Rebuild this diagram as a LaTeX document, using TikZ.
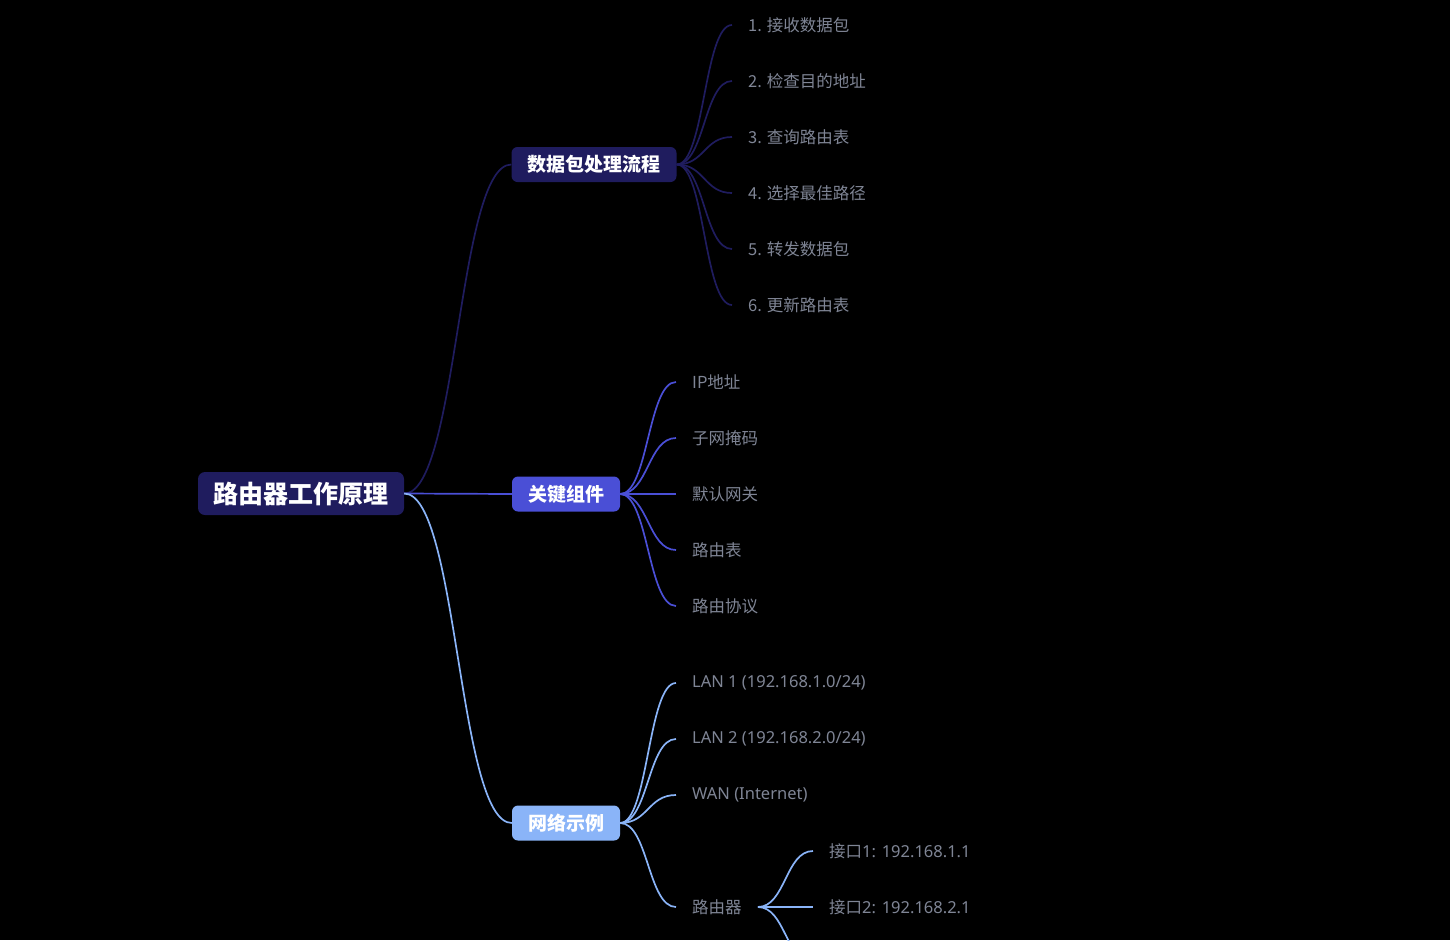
\documentclass[tikz,border=0pt]{standalone}
\usepackage{fontspec}
\setmainfont{Noto Sans CJK SC}
\newfontfamily\latinfont{Noto Sans}
\definecolor{navy}{HTML}{1F1C5E}
\definecolor{keyblue}{HTML}{4A4FD6}
\definecolor{skyblue}{HTML}{8AB4F8}
\definecolor{leafgray}{HTML}{7F8595}
\begin{document}
\begin{tikzpicture}[
    x=1pt, y=-1pt,
    rootbox/.style={fill=navy, text=white, rounded corners=7pt, inner xsep=15.5pt,
        minimum height=43pt, font=\fontsize{25}{30}\selectfont\bfseries},
    branchbox/.style={text=white, rounded corners=6pt, inner xsep=16pt,
        minimum height=35pt, font=\fontsize{19}{23}\selectfont\bfseries},
    leaf/.style={anchor=west, inner sep=0pt, yshift=-1pt, text=leafgray, font=\fontsize{16.5}{20}\selectfont},
    link/.style={line width=1.7pt}
]
\path[use as bounding box, fill=black] (0,0) rectangle (1450,940);
\clip (0,0) rectangle (1450,940);

\node[rootbox] (root) at (301,493.5) {路由器工作原理};

% Branches
\node[branchbox, fill=navy]    (flow)  at (594,164.5) {数据包处理流程};
\node[branchbox, fill=keyblue] (parts) at (566,494)   {关键组件};
\node[branchbox, fill=skyblue] (demo)  at (566,823)   {网络示例};

\draw[link, navy]    (root.east) .. controls +(54,0) and +(-54,0) .. (flow.west);
\draw[link, keyblue] (root.east) .. controls +(54,0) and +(-54,0) .. (parts.west);
\draw[link, skyblue] (root.east) .. controls +(54,0) and +(-54,0) .. (demo.west);

% Packet flow
\node[leaf] (recv)   at (748,24)  {1. 接收数据包};
\node[leaf] (check)  at (748,80)  {2. 检查目的地址};
\node[leaf] (lookup) at (748,136) {3. 查询路由表};
\node[leaf] (best)   at (748,192) {4. 选择最佳路径};
\node[leaf] (fwd)    at (748,248) {5. 转发数据包};
\node[leaf] (update) at (748,304) {6. 更新路由表};

\draw[link, navy] (flow.east) .. controls +(28,0) and +(-28,0) .. ([xshift=-16pt]recv.west);
\draw[link, navy] (flow.east) .. controls +(28,0) and +(-28,0) .. ([xshift=-16pt]check.west);
\draw[link, navy] (flow.east) .. controls +(28,0) and +(-28,0) .. ([xshift=-16pt]lookup.west);
\draw[link, navy] (flow.east) .. controls +(28,0) and +(-28,0) .. ([xshift=-16pt]best.west);
\draw[link, navy] (flow.east) .. controls +(28,0) and +(-28,0) .. ([xshift=-16pt]fwd.west);
\draw[link, navy] (flow.east) .. controls +(28,0) and +(-28,0) .. ([xshift=-16pt]update.west);

% Key parts
\node[leaf] (ip)    at (692,381) {IP地址};
\node[leaf] (mask)  at (692,437) {子网掩码};
\node[leaf] (gw)    at (692,493) {默认网关};
\node[leaf] (table) at (692,549) {路由表};
\node[leaf] (proto) at (692,605) {路由协议};

\draw[link, keyblue] (parts.east) .. controls +(28,0) and +(-28,0) .. ([xshift=-16pt]ip.west);
\draw[link, keyblue] (parts.east) .. controls +(28,0) and +(-28,0) .. ([xshift=-16pt]mask.west);
\draw[link, keyblue] (parts.east) .. controls +(28,0) and +(-28,0) .. ([xshift=-16pt]gw.west);
\draw[link, keyblue] (parts.east) .. controls +(28,0) and +(-28,0) .. ([xshift=-16pt]table.west);
\draw[link, keyblue] (parts.east) .. controls +(28,0) and +(-28,0) .. ([xshift=-16pt]proto.west);

% Network example
\node[leaf] (lan1)   at (692,682) {\latinfont LAN 1 (192.168.1.0/24)};
\node[leaf] (lan2)   at (692,738) {\latinfont LAN 2 (192.168.2.0/24)};
\node[leaf] (wan)    at (692,794) {\latinfont WAN (Internet)};
\node[leaf] (router) at (692,906) {路由器};

\draw[link, skyblue] (demo.east) .. controls +(28,0) and +(-28,0) .. ([xshift=-16pt]lan1.west);
\draw[link, skyblue] (demo.east) .. controls +(28,0) and +(-28,0) .. ([xshift=-16pt]lan2.west);
\draw[link, skyblue] (demo.east) .. controls +(28,0) and +(-28,0) .. ([xshift=-16pt]wan.west);
\draw[link, skyblue] (demo.east) .. controls +(28,0) and +(-28,0) .. ([xshift=-16pt]router.west);

% Router ports
\node[leaf] (port1) at (829,850) {接口{\latinfont 1: 192.168.1.1}};
\node[leaf] (port2) at (829,906) {接口{\latinfont 2: 192.168.2.1}};
\coordinate (port3) at (813,962);

\draw[link, skyblue] ([xshift=16pt]router.east) .. controls +(27.5,0) and +(-27.5,0) .. ([xshift=-16pt]port1.west);
\draw[link, skyblue] ([xshift=16pt]router.east) .. controls +(27.5,0) and +(-27.5,0) .. ([xshift=-16pt]port2.west);
\draw[link, skyblue] ([xshift=16pt]router.east) .. controls +(27.5,0) and +(-27.5,0) .. (port3);
\end{tikzpicture}
\end{document}
